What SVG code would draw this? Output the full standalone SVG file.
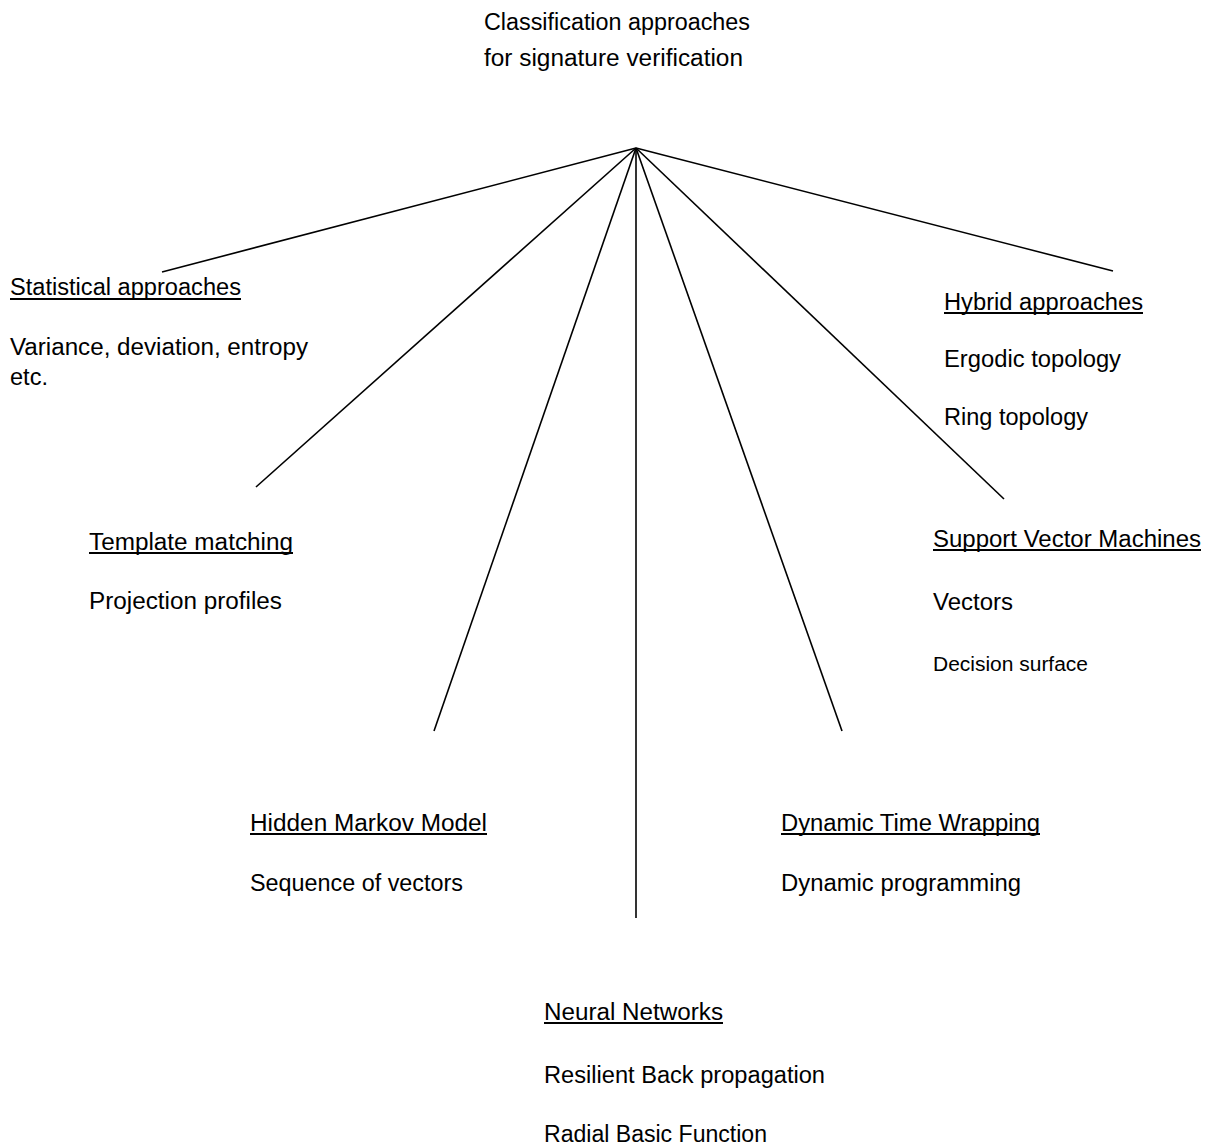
<svg xmlns="http://www.w3.org/2000/svg" width="1210" height="1148" viewBox="0 0 1210 1148">
<style>
text{font-family:"Liberation Sans",Arial,sans-serif;font-size:23px;fill:#000}
.s{font-size:19.5px}
.u{stroke:#000;stroke-width:2}
.c{stroke:#000;stroke-width:1.6;fill:none}
</style>
<rect width="1210" height="1148" fill="#fff"/>
<g id="connectors">
<line class="c" x1="636" y1="148" x2="162" y2="272"/>
<line class="c" x1="636" y1="148" x2="256" y2="487"/>
<line class="c" x1="636" y1="148" x2="434" y2="731"/>
<line class="c" x1="636" y1="148" x2="636" y2="918"/>
<line class="c" x1="636" y1="148" x2="842" y2="731"/>
<line class="c" x1="636" y1="148" x2="1004" y2="499"/>
<line class="c" x1="636" y1="148" x2="1113" y2="271"/>
</g>
<g id="root">
<text x="484" y="30" textLength="266" lengthAdjust="spacingAndGlyphs">Classification approaches</text>
<text x="484" y="66" textLength="259" lengthAdjust="spacingAndGlyphs">for signature verification</text>
</g>
<g id="statistical">
<text x="10" y="295" textLength="231" lengthAdjust="spacingAndGlyphs">Statistical approaches</text>
<line class="u" x1="10" y1="299" x2="241" y2="299"/>
<text x="10" y="355" textLength="298" lengthAdjust="spacingAndGlyphs">Variance, deviation, entropy</text>
<text x="10" y="385" textLength="38" lengthAdjust="spacingAndGlyphs">etc.</text>
</g>
<g id="hybrid">
<text x="944" y="310" textLength="199" lengthAdjust="spacingAndGlyphs">Hybrid approaches</text>
<line class="u" x1="944" y1="313" x2="1143" y2="313"/>
<text x="944" y="367" textLength="177" lengthAdjust="spacingAndGlyphs">Ergodic topology</text>
<text x="944" y="425" textLength="144" lengthAdjust="spacingAndGlyphs">Ring topology</text>
</g>
<g id="template">
<text x="89" y="550" textLength="204" lengthAdjust="spacingAndGlyphs">Template matching</text>
<line class="u" x1="89" y1="553" x2="293" y2="553"/>
<text x="89" y="609" textLength="193" lengthAdjust="spacingAndGlyphs">Projection profiles</text>
</g>
<g id="svm">
<text x="933" y="547" textLength="268" lengthAdjust="spacingAndGlyphs">Support Vector Machines</text>
<line class="u" x1="933" y1="550" x2="1201" y2="550"/>
<text x="933" y="610" textLength="80" lengthAdjust="spacingAndGlyphs">Vectors</text>
<text class="s" x="933" y="671" textLength="155" lengthAdjust="spacingAndGlyphs">Decision surface</text>
</g>
<g id="hmm">
<text x="250" y="831" textLength="237" lengthAdjust="spacingAndGlyphs">Hidden Markov Model</text>
<line class="u" x1="250" y1="834" x2="487" y2="834"/>
<text x="250" y="891" textLength="213" lengthAdjust="spacingAndGlyphs">Sequence of vectors</text>
</g>
<g id="dtw">
<text x="781" y="831" textLength="259" lengthAdjust="spacingAndGlyphs">Dynamic Time Wrapping</text>
<line class="u" x1="781" y1="834" x2="1040" y2="834"/>
<text x="781" y="891" textLength="240" lengthAdjust="spacingAndGlyphs">Dynamic programming</text>
</g>
<g id="neural">
<text x="544" y="1020" textLength="179" lengthAdjust="spacingAndGlyphs">Neural Networks</text>
<line class="u" x1="544" y1="1023" x2="723" y2="1023"/>
<text x="544" y="1083" textLength="281" lengthAdjust="spacingAndGlyphs">Resilient Back propagation</text>
<text x="544" y="1142" textLength="223" lengthAdjust="spacingAndGlyphs">Radial Basic Function</text>
</g>
</svg>
